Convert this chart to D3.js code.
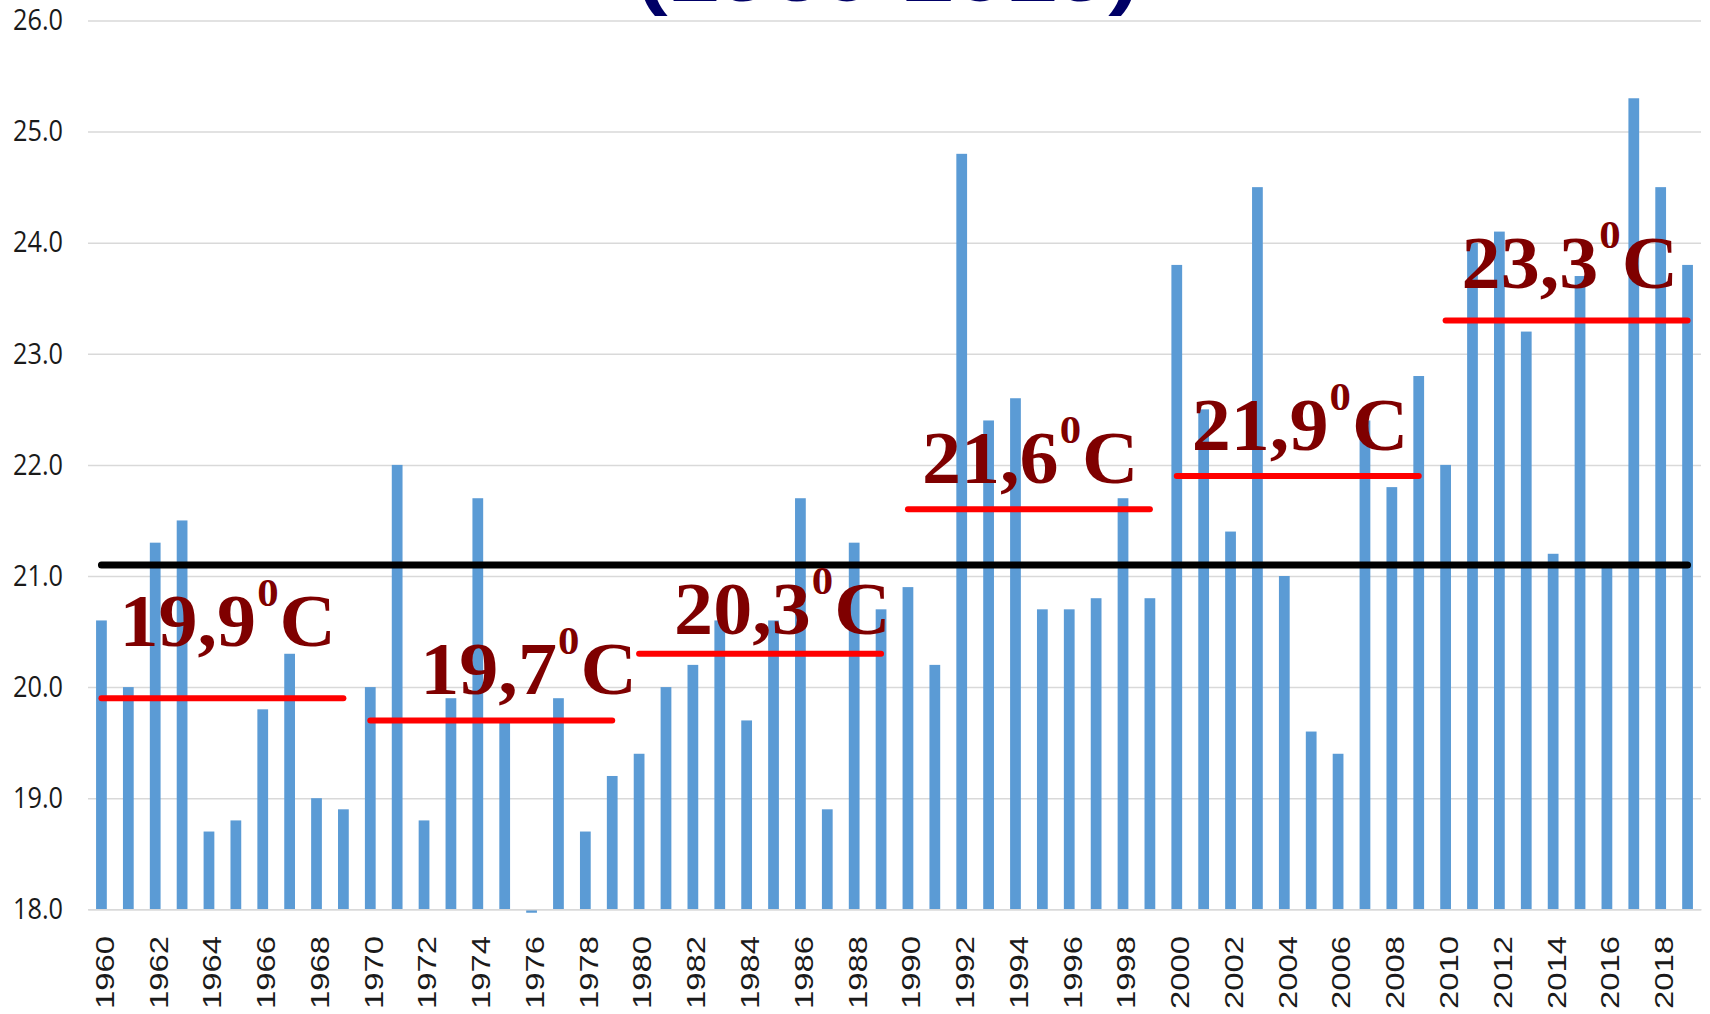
<!DOCTYPE html>
<html>
<head>
<meta charset="utf-8">
<script src="https://cdn.jsdelivr.net/npm/d3@7"></script>
<style>
  body { margin: 0; background: #fff; }
</style>
</head>
<body>
<div id="chart"></div>
<script>
// categories: one bar per year
var years = [1960, 1961, 1962, 1963, 1964, 1965, 1966, 1967, 1968, 1969,
             1970, 1971, 1972, 1973, 1974, 1975, 1976, 1977, 1978, 1979,
             1980, 1981, 1982, 1983, 1984, 1985, 1986, 1987, 1988, 1989,
             1990, 1991, 1992, 1993, 1994, 1995, 1996, 1997, 1998, 1999,
             2000, 2001, 2002, 2003, 2004, 2005, 2006, 2007, 2008, 2009,
             2010, 2011, 2012, 2013, 2014, 2015, 2016, 2017, 2018, 2019];

// yearly temperature (°C)
var temps = [20.6, 20.0, 21.3, 21.5, 18.7, 18.8, 19.8, 20.3, 19.0, 18.9,
             20.0, 22.0, 18.8, 19.9, 21.7, 19.7, 17.1, 19.9, 18.7, 19.2,
             19.4, 20.0, 20.2, 20.6, 19.7, 20.6, 21.7, 18.9, 21.3, 20.7,
             20.9, 20.2, 24.8, 22.4, 22.6, 20.7, 20.7, 20.8, 21.7, 20.8,
             23.8, 22.5, 21.4, 24.5, 21.0, 19.6, 19.4, 22.4, 21.8, 22.8,
             22.0, 24.0, 24.1, 23.2, 21.2, 23.7, 21.1, 25.3, 24.5, 23.8];

// decade averages
var decadeStart = [1960, 1970, 1980, 1990, 2000, 2010];
var decadeEnd   = [1969, 1979, 1989, 1999, 2009, 2019];
var decadeMeans = [19.9, 19.7, 20.3, 21.6, 21.9, 23.3];
var overallMean = 21.1;

// axis ticks
var yTicks = [18, 19, 20, 21, 22, 23, 24, 25, 26];
var xTickYears = years.filter(function(d) { return d % 2 === 0; });

var title = "(1960-2019)";

// label placement relative to start of each decade line (px)
var labelOffsets = [[18, -52], [50, -26], [35, -20], [14, -26], [15, -26], [16, -32]];

var width = 1710, height = 1014;
var plot = {left: 88, right: 1701, top: 20.5, bottom: 909.3};

var svg = d3.select("#chart")
  .append("svg")
    .attr("width", width)
    .attr("height", height);

var x = d3.scaleBand()
  .domain(years)
  .range([plot.left, plot.right])
  .paddingInner(0.6)
  .paddingOuter(0.3);

var y = d3.scaleLinear()
  .domain([18, 26])
  .range([plot.bottom, plot.top]);

var cx = function(yr) { return x(yr) + x.bandwidth() / 2; };
var fmtComma = function(v) { return d3.format(".1f")(v).replace(".", ","); };

svg.append("defs").append("clipPath").attr("id", "clip")
  .append("rect")
    .attr("x", plot.left)
    .attr("y", 0)
    .attr("width", plot.right - plot.left)
    .attr("height", plot.bottom + 3.5);

// title (only its lower edge is inside the picture)
svg.append("text")
  .attr("x", 637)
  .attr("y", 1)
  .attr("font-family", "'Liberation Sans', Arial, sans-serif")
  .attr("font-weight", "bold")
  .attr("font-size", 74)
  .attr("fill", "#000066")
  .attr("textLength", 502)
  .attr("lengthAdjust", "spacingAndGlyphs")
  .text(title);

// gridlines + y labels
svg.append("g")
  .attr("transform", "translate(" + plot.left + ",0)")
  .call(d3.axisLeft(y)
    .tickValues(yTicks)
    .tickSize(-(plot.right - plot.left))
    .tickPadding(25)
    .tickFormat(d3.format(".1f")))
  .call(function(g) { g.select(".domain").remove(); })
  .call(function(g) {
    g.selectAll(".tick line").attr("stroke", "#d9d9d9").attr("stroke-width", 1.5);
    g.selectAll(".tick text")
      .attr("fill", "#1a1a1a")
      .attr("font-family", "'Open Sans', sans-serif")
      .attr("font-size", 29)
      .attr("textLength", 50)
      .attr("lengthAdjust", "spacingAndGlyphs");
  });

// bars
svg.append("g")
  .attr("clip-path", "url(#clip)")
  .selectAll("rect")
  .data(temps)
  .join("rect")
    .attr("x", function(d, i) { return x(years[i]); })
    .attr("y", function(d) { return y(Math.max(d, 18)); })
    .attr("width", x.bandwidth())
    .attr("height", function(d) { return Math.abs(y(d) - y(18)); })
    .attr("fill", "#5b9bd5");

// x axis
svg.append("g")
  .attr("transform", "translate(0," + plot.bottom + ")")
  .call(d3.axisBottom(x).tickValues(xTickYears).tickSize(0).tickSizeOuter(0).tickPadding(0))
  .call(function(g) {
    g.select(".domain").attr("stroke", "#d9d9d9").attr("stroke-width", 1.5);
    g.selectAll(".tick text")
      .attr("x", 0)
      .attr("y", 0)
      .attr("dy", "0.36em")
      .attr("transform", "translate(3," + (936 - plot.bottom) + ") rotate(-90)")
      .attr("text-anchor", "end")
      .attr("fill", "#1a1a1a")
      .attr("font-family", "'Liberation Sans', Arial, sans-serif")
      .attr("font-size", 26)
      .attr("textLength", 73)
      .attr("lengthAdjust", "spacingAndGlyphs");
  });

// overall mean line
svg.append("line")
  .attr("x1", cx(years[0]))
  .attr("x2", cx(years[years.length - 1]))
  .attr("y1", y(overallMean))
  .attr("y2", y(overallMean))
  .attr("stroke", "#000")
  .attr("stroke-width", 7)
  .attr("stroke-linecap", "round");

// decade mean lines
svg.append("g")
  .selectAll("line")
  .data(decadeMeans)
  .join("line")
    .attr("x1", function(d, i) { return cx(decadeStart[i]); })
    .attr("x2", function(d, i) { return cx(decadeEnd[i]); })
    .attr("y1", function(d) { return y(d); })
    .attr("y2", function(d) { return y(d); })
    .attr("stroke", "#ff0000")
    .attr("stroke-width", 6)
    .attr("stroke-linecap", "round");

// decade labels (Cambria-like: a bit wider than Times)
var labels = svg.append("g")
  .selectAll("text")
  .data(decadeMeans)
  .join("text")
    .attr("transform", function(d, i) {
      return "translate(" + (cx(decadeStart[i]) + labelOffsets[i][0]) + "," +
             (y(d) + labelOffsets[i][1]) + ") scale(1.07,1)";
    })
    .attr("font-family", "'Liberation Serif', 'Times New Roman', serif")
    .attr("font-weight", "bold")
    .attr("font-size", 73)
    .attr("fill", "#7f0000");

labels.append("tspan").text(function(d) { return fmtComma(d); });
labels.append("tspan").attr("font-size", 40).attr("dy", -40).attr("dx", 1).text("0");
labels.append("tspan").attr("dy", 40).attr("dx", 1).text("C");
</script>
</body>
</html>
